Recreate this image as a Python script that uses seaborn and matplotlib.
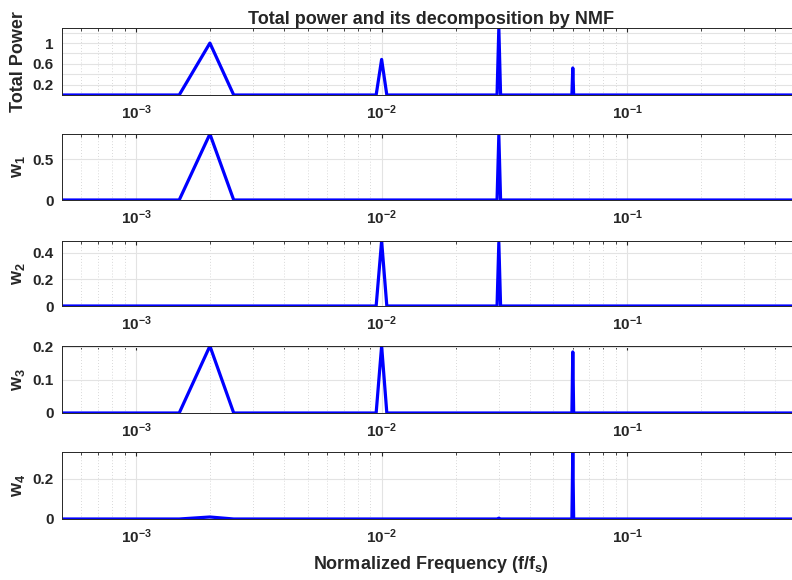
import numpy as np
import matplotlib
matplotlib.use('Agg')
import matplotlib.pyplot as plt
import seaborn as sns
from matplotlib.ticker import LogLocator, NullFormatter, FixedLocator

# vertices of each spectrum (normalized frequency, value)
freq_total = [0.0005, 0.0015, 0.002, 0.0025, 0.0095, 0.01, 0.0105,
              0.0295, 0.03, 0.0305, 0.0595, 0.06, 0.0605, 0.5]
total_power = [0, 0, 1.0, 0, 0, 0.685, 0, 0, 1.29, 0, 0, 0.52, 0, 0]

freq_w1 = [0.0005, 0.0015, 0.002, 0.0025, 0.0295, 0.03, 0.0305, 0.5]
w1 = [0, 0, 0.807, 0, 0, 0.79, 0, 0]

freq_w2 = [0.0005, 0.0095, 0.01, 0.0105, 0.0295, 0.03, 0.0305, 0.5]
w2 = [0, 0, 0.487, 0, 0, 0.475, 0, 0]

freq_w3 = [0.0005, 0.0015, 0.002, 0.0025, 0.0095, 0.01, 0.0105,
           0.0595, 0.06, 0.0605, 0.5]
w3 = [0, 0, 0.203, 0, 0, 0.203, 0, 0, 0.185, 0, 0]

freq_w4 = [0.0005, 0.0015, 0.002, 0.0025, 0.0295, 0.03, 0.0305,
           0.0595, 0.06, 0.0605, 0.5]
w4 = [0, 0, 0.01, 0, 0, 0.004, 0, 0, 0.335, 0, 0]

ylabels = ['Total Power', r'$\mathrm{w_1}$', r'$\mathrm{w_2}$', r'$\mathrm{w_3}$', r'$\mathrm{w_4}$']
yticks = [[0.2, 0.6, 1.0], [0, 0.5], [0, 0.2, 0.4], [0, 0.1, 0.2], [0, 0.2]]
xticks = [1e-3, 1e-2, 1e-1]
xticklabels = [r'$\mathrm{10^{-3}}$', r'$\mathrm{10^{-2}}$', r'$\mathrm{10^{-1}}$']

sns.set_style('white')
plt.rcParams['font.family'] = ['Liberation Sans', 'DejaVu Sans']
plt.rcParams['font.weight'] = 'bold'
plt.rcParams['mathtext.fontset'] = 'custom'
plt.rcParams['mathtext.rm'] = 'Liberation Sans:bold'
plt.rcParams['mathtext.it'] = 'Liberation Sans:bold'
plt.rcParams['mathtext.bf'] = 'Liberation Sans:bold'

fig = plt.figure(figsize=(7.92, 5.8), dpi=100)
W, H = 792, 580
panels = [(28, 95), (134, 200), (241, 306), (346, 413), (452, 519)]
series = [(freq_total, total_power), (freq_w1, w1), (freq_w2, w2),
          (freq_w3, w3), (freq_w4, w4)]

for i, ((top, bot), (fx, fy)) in enumerate(zip(panels, series)):
    ax = fig.add_axes([62 / W, 1 - bot / H, (799 - 62) / W, (bot - top) / H])
    sns.lineplot(x=fx, y=fy, ax=ax, color='#0000ff', lw=2.3, sort=False)
    ax.set_xscale('log')
    ax.set_xlim(5e-4, 0.5)
    ax.set_ylim(0, max(fy))
    ax.xaxis.set_major_locator(FixedLocator(xticks))
    ax.set_xticklabels(xticklabels)
    ax.xaxis.set_minor_locator(LogLocator(base=10, subs=np.arange(2, 10)))
    ax.xaxis.set_minor_formatter(NullFormatter())
    ax.set_yticks(yticks[i])
    if i == 0:
        ax.set_yticklabels(['0.2', '0.6', '1'])
        ax.yaxis.set_minor_locator(FixedLocator([0.4, 0.8, 1.2]))
        ax.grid(True, axis='y', which='minor', color='#e3e3e3', lw=0.8)
    else:
        ax.set_yticklabels([f'{v:g}' for v in yticks[i]])
    ax.grid(True, axis='y', which='major', color='#e3e3e3', lw=0.8)
    ax.grid(True, axis='x', which='major', color='#e3e3e3', lw=0.8)
    ax.grid(True, axis='x', which='minor', color='#cccccc', lw=0.6, ls=(0, (1, 2.5)))
    ax.tick_params(which='both', direction='in', top=True, right=True,
                   labelsize=11, colors='#262626', length=3, pad=6)
    ax.tick_params(which='minor', length=2)
    for s in ax.spines.values():
        s.set_color('#262626')
        s.set_linewidth(0.7)
    ax.set_ylabel(ylabels[i], fontsize=13, fontweight='bold', color='#262626', labelpad=4)
    ax.set_axisbelow(True)
    if i == 0:
        ax.set_title('Total power and its decomposition by NMF', fontsize=13,
                     fontweight='bold', pad=3)
    if i == 4:
        ax.set_xlabel(r'Normalized Frequency (f/f$_\mathrm{s}$)', fontsize=13,
                      fontweight='bold', color='#262626', labelpad=6)

fig.savefig('out.png', dpi=100)
